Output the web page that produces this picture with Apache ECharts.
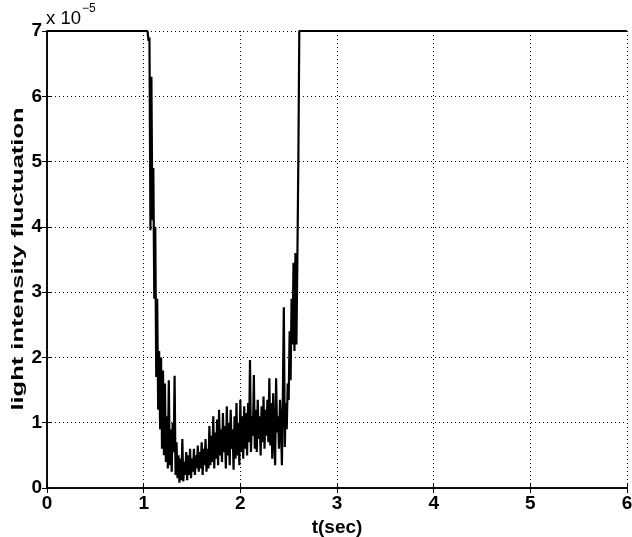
<!DOCTYPE html>
<html><head><meta charset="utf-8">
<script src="https://cdn.jsdelivr.net/npm/echarts@6/dist/echarts.min.js"></script>
<style>html,body{margin:0;padding:0;background:#fff}#c{width:632px;height:537px}</style>
</head><body><div id="c"></div>
<script>
// Time axis (sec) and y (units of 1e-5)
const xTicks = [0, 1, 2, 3, 4, 5, 6];
const yTicks = [0, 1, 2, 3, 4, 5, 6, 7];
const plateauLevel = 7;
const startTime = 0, endTime = 6;
const dipStart = 1.04, dipStep = 0.01;
const dipValues = [
 7, 6.85, 6.9, 3.95, 6.3, 4.1, 4.9, 2.9, 4.0, 1.7,
 2.9, 1.2, 2.1, 0.9, 2.0, 0.6, 1.8, 0.5, 1.6, 0.4,
 1.1, 0.3, 1.65, 0.35, 0.9, 0.25, 1.0, 0.55, 1.72, 0.2,
 0.7, 0.15, 0.5, 0.08, 0.45, 0.12, 0.75, 0.1, 0.4, 0.2,
 0.55, 0.12, 0.5, 0.2, 0.6, 0.15, 0.45, 0.25, 0.6, 0.2,
 0.5, 0.3, 0.65, 0.25, 0.55, 0.3, 0.7, 0.2, 0.6, 0.35,
 0.75, 0.25, 0.6, 0.3, 0.95, 0.35, 0.8, 0.4, 1.1, 0.3,
 0.85, 0.45, 1.05, 0.35, 1.2, 0.5, 0.9, 0.4, 1.15, 0.55,
 0.95, 0.3, 1.25, 0.5, 1.0, 0.35, 1.2, 0.6, 0.9, 0.28,
 1.1, 0.45, 1.3, 0.5, 1.0, 0.35, 1.35, 0.55, 1.1, 0.45,
 1.25, 0.6, 1.15, 0.5, 1.3, 0.7, 1.96, 0.55, 1.1, 0.8,
 1.73, 0.6, 1.2, 0.55, 1.35, 0.75, 1.1, 0.5, 1.25, 0.7,
 1.4, 0.6, 1.2, 0.8, 1.35, 0.7, 1.68, 0.65, 1.3, 0.45,
 1.45, 0.75, 0.35, 1.68, 0.85, 1.1, 0.6, 1.35, 1.0, 0.35,
 1.45, 2.77, 0.63, 1.3, 0.9, 1.6, 1.35, 2.4, 1.65, 2.9,
 2.2, 3.45, 2.1, 3.6, 2.2, 3.5, 5.0, 7, 7
];
const yAxisTitle = 'light intensity fluctuation';
const xAxisTitle = 't(sec)';

const points = [[startTime, plateauLevel]];
dipValues.forEach((v, i) => points.push([+(dipStart + i * dipStep).toFixed(2), v]));
points.push([endTime, plateauLevel]);

const font = 'Liberation Sans, Arial, Helvetica, sans-serif';
const chart = echarts.init(document.getElementById('c'), null, {renderer: 'canvas'});
const baseAxis = {
  axisLine: {show: true, lineStyle: {color: '#000', width: 1.5}},
  axisTick: {show: true, inside: true, length: 5, lineStyle: {color: '#000', width: 1}},
};
chart.setOption({
  animation: false,
  grid: {left: 47, right: 5, top: 31, bottom: 49, containLabel: false, outerBoundsMode: 'none'},
  xAxis: [
    Object.assign({}, baseAxis, {
      type: 'value', min: xTicks[0], max: xTicks[xTicks.length - 1], interval: 1,
      axisLabel: {color: '#000', fontFamily: font, fontWeight: 'bold', fontSize: 19, margin: 6},
      splitLine: {show: true, lineStyle: {color: '#000', type: [1, 3], width: 1}},
      name: xAxisTitle, nameLocation: 'middle', nameGap: 22,
      nameTextStyle: {color: '#000', fontFamily: font, fontWeight: 'bold', fontSize: 19}
    }),
    Object.assign({}, baseAxis, {
      type: 'value', position: 'top', min: 0, max: 6, interval: 1,
      axisLabel: {show: false}, splitLine: {show: false}
    })
  ],
  yAxis: [
    Object.assign({}, baseAxis, {
      type: 'value', min: yTicks[0], max: yTicks[yTicks.length - 1], interval: 1,
      axisLabel: {color: '#000', fontFamily: font, fontWeight: 'bold', fontSize: 19, margin: 5},
      splitLine: {show: true, lineStyle: {color: '#000', type: [1, 3], width: 1}}
    }),
    Object.assign({}, baseAxis, {
      type: 'value', position: 'right', min: 0, max: 7, interval: 1,
      axisLabel: {show: false}, splitLine: {show: false}
    })
  ],
  graphic: [
    {
      type: 'text', x: 18, y: 259, rotation: Math.PI / 2, scaleX: 1.5,
      style: {text: yAxisTitle, fontFamily: font, fontWeight: 'bold', fontSize: 17,
              fill: '#000', align: 'center', verticalAlign: 'middle'}
    },
    {
      type: 'text', x: 46, y: 9,
      style: {text: 'x 10', fontFamily: font, fontSize: 18.5, fill: '#000', verticalAlign: 'top'}
    },
    {
      type: 'text', x: 82, y: 3,
      style: {text: '−5', fontFamily: font, fontSize: 12, fill: '#000', verticalAlign: 'top'}
    }
  ],
  series: [{
    type: 'line', data: points, showSymbol: false, symbol: 'none',
    lineStyle: {color: '#000', width: 2.2}, clip: true, z: 3
  }]
});
</script></body></html>
